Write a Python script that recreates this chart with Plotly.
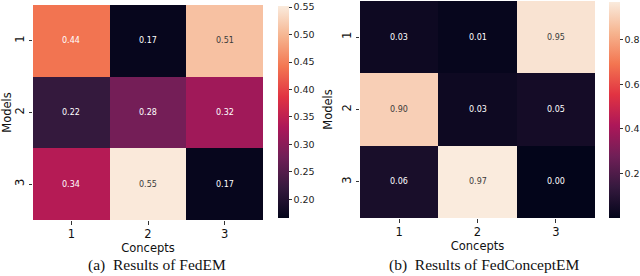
import plotly.graph_objects as go

concepts = ["1", "2", "3"]
models = ["1", "2", "3"]
fedem = [[0.44, 0.17, 0.51],
         [0.22, 0.28, 0.32],
         [0.34, 0.55, 0.17]]
fedconcept = [[0.03, 0.01, 0.95],
              [0.90, 0.03, 0.05],
              [0.06, 0.97, 0.00]]
fedem_range = [0.166, 0.552]
fedconcept_range = [0.0, 0.97]
fedem_ticks = [0.20, 0.25, 0.30, 0.35, 0.40, 0.45, 0.50, 0.55]
fedconcept_ticks = [0.2, 0.4, 0.6, 0.8]
captions = ["(a)  Results of FedEM", "(b)  Results of FedConceptEM"]

rocket = [[0.0, "#03051A"], [1/7, "#35193E"], [2/7, "#701F57"], [3/7, "#AD1759"],
          [4/7, "#E13342"], [5/7, "#F37651"], [6/7, "#F6B48F"], [1.0, "#FAEBDD"]]

W, H = 640, 276
def px_x(a, b):
    return [a / W, b / W]
def px_y(top, bot):
    return [(H - bot) / H, (H - top) / H]

fig = go.Figure()

panels = [
    dict(z=fedem, rng=fedem_range, ticks=fedem_ticks, fmt=".2f", xd=px_x(33, 263), yd=px_y(5, 220),
         cbx=278, cbtop=6, cbbot=218, xa="x", ya="y", cap_x=157),
    dict(z=fedconcept, rng=fedconcept_range, ticks=fedconcept_ticks, fmt=".1f", xd=px_x(360, 595), yd=px_y(1, 218),
         cbx=609, cbtop=2, cbbot=218, xa="x2", ya="y2", cap_x=484),
]

for i, p in enumerate(panels):
    fig.add_trace(go.Heatmap(
        z=p["z"], x=concepts, y=models, xaxis=p["xa"], yaxis=p["ya"],
        colorscale=rocket, zmin=p["rng"][0], zmax=p["rng"][1],
        colorbar=dict(
            x=p["cbx"] / W, xanchor="left", thickness=11, thicknessmode="pixels",
            len=(p["cbbot"] - p["cbtop"]) / H, lenmode="fraction",
            y=(H - (p["cbtop"] + p["cbbot"]) / 2) / H, yanchor="middle",
            outlinewidth=0, tickvals=p["ticks"], tickformat=p["fmt"],
            ticks="outside", ticklen=3, tickcolor="#333", tickwidth=0.8,
            tickfont=dict(family="DejaVu Sans", size=9.5, color="#222"),
            xpad=0, ypad=0,
        ),
        hoverinfo="skip",
    ))
    lo, hi = p["rng"]
    for r, row in enumerate(p["z"]):
        for c, v in enumerate(row):
            frac = (v - lo) / (hi - lo)
            color = "#3a3a3a" if frac > 0.75 else "white"
            fig.add_annotation(x=c, y=r, xref=p["xa"], yref=p["ya"],
                               text=f"{v:.2f}", showarrow=False,
                               font=dict(family="DejaVu Sans", size=8, color=color))
    fig.add_annotation(x=p["cap_x"] / W, y=(H - 265) / H, xref="paper", yref="paper",
                       text=captions[i], showarrow=False, xanchor="center", yanchor="middle",
                       font=dict(family="Liberation Serif", size=15.5, color="#111"))

axis_common = dict(ticks="outside", ticklen=3.5, tickwidth=0.8, tickcolor="#333",
                   showgrid=False, zeroline=False, showline=False, automargin=False,
                   tickfont=dict(family="DejaVu Sans", size=11.5, color="#111"))

for i, p in enumerate(panels):
    sfx = "" if i == 0 else "2"
    fig.update_layout(**{
        f"xaxis{sfx}": dict(domain=p["xd"], anchor=p["ya"], type="category",
                           title=dict(text="Concepts", standoff=3,
                                      font=dict(family="DejaVu Sans", size=11.5, color="#111")),
                           **axis_common),
        f"yaxis{sfx}": dict(domain=p["yd"], anchor=p["xa"], type="category",
                           autorange="reversed", tickangle=-90,
                           title=dict(text="Models", standoff=4,
                                      font=dict(family="DejaVu Sans", size=11.5, color="#111")),
                           **axis_common),
    })

fig.update_layout(width=W, height=H, margin=dict(l=0, r=0, t=0, b=0, autoexpand=False),
                  paper_bgcolor="white", plot_bgcolor="white", showlegend=False)

fig.write_html("out.html", config={"displayModeBar": False},
               post_script="document.body.style.margin='0';document.body.style.padding='0';")
